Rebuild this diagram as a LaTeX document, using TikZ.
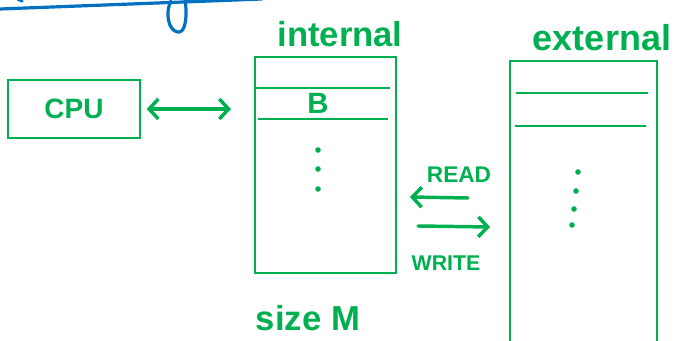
\documentclass[tikz,border=0pt]{standalone}
\usepackage{fontspec}
\setmainfont{Liberation Sans}
\usetikzlibrary{arrows.meta}
\definecolor{pen}{RGB}{0,176,80}
\definecolor{ink}{RGB}{0,112,192}
\tikzstyle{block} = [
  draw=pen,
  line width=2pt,
  rectangle,
  inner sep=0pt,
  text=pen,
  font=\bfseries,
]
\tikzstyle{word} = [
  text=pen,
  inner sep=0pt,
  anchor=base,
  font=\bfseries,
]
\tikzstyle{slot} = [
  draw=pen,
  line width=2pt,
]
\tikzstyle{flow} = [
  draw=pen,
  line width=2.6pt,
  line cap=round,
  -{Straight Barb[length=7pt,width=15pt]},
]
\tikzstyle{dot} = [
  circle,
  fill=pen,
  inner sep=0pt,
  minimum size=4.2pt,
]

\begin{document}
\begin{tikzpicture}[
    x=0.75pt,
    y=-0.75pt,
  ]
  \useasboundingbox (0,0) rectangle (675,341);
  % leftover stroke from the line above
  \draw[ink, line width=2.4pt, line cap=round]
    (0,9) -- (262,-1);
  \draw[ink, line width=2.4pt, line cap=round]
    (185,-2) .. controls (188,22) and (184,33) .. (178,32)
    .. controls (168,31) and (165,12) .. (171,1);
  \draw[ink, line width=2.4pt, line cap=round] (18,-1) -- (22,1);

  % processor
  \node[
    block,
    minimum width=99pt,
    minimum height=43.5pt,
  ](cpu) at (74,109) {\fontsize{21}{21}\selectfont CPU};

  % fast memory
  \node[
    block,
    minimum width=105.75pt,
    minimum height=162pt,
  ](internal) at (325.5,165) {};
  \node[word] (intlabel) at (340,47) {\fontsize{26}{26}\selectfont internal};
  \draw[slot] (256,88) -- (390,88);
  \draw[slot] (258,119) -- (388,119);
  \node[word] (blk) at (318,114) {\fontsize{22}{22}\selectfont B};
  \foreach \y in {150,169,189}
    \node[dot] at (318,\y) {};
  \node[word] (size) at (308,331) {\fontsize{26}{26}\selectfont size M};

  % slow memory, runs off the bottom
  \node[
    block,
    minimum width=110.25pt,
    minimum height=224.25pt,
  ](external) at (583.5,210.5) {};
  \node[word] (extlabel) at (602,51) {\fontsize{27}{27}\selectfont external};
  \draw[slot] (516,93) -- (648,93);
  \draw[slot] (515,126) -- (646,126);
  \foreach \x/\y in {578/172, 576/191, 574/209, 572/225}
    \node[dot] at (\x,\y) {};

  % cpu <-> internal
  \draw[
    flow,
    {Straight Barb[length=7pt,width=15pt]}-{Straight Barb[length=7pt,width=15pt]},
    shorten <=4pt,
    shorten >=17pt,
  ] (cpu.east) -- (cpu.east -| internal.west);

  % transfers between the two memories
  \coordinate (rdfrom) at (468,198);
  \coordinate (rdto) at (410,197);
  \coordinate (wrfrom) at (418,226);
  \coordinate (wrto) at (490,227);
  \draw[flow] (rdfrom) -- (rdto);
  \draw[flow] (wrfrom) -- (wrto);
  \node[word] (read) at (459,183) {\fontsize{17}{17}\selectfont READ};
  \node[word] (write) at (446,271) {\fontsize{16}{16}\selectfont WRITE};
\end{tikzpicture}
\end{document}
